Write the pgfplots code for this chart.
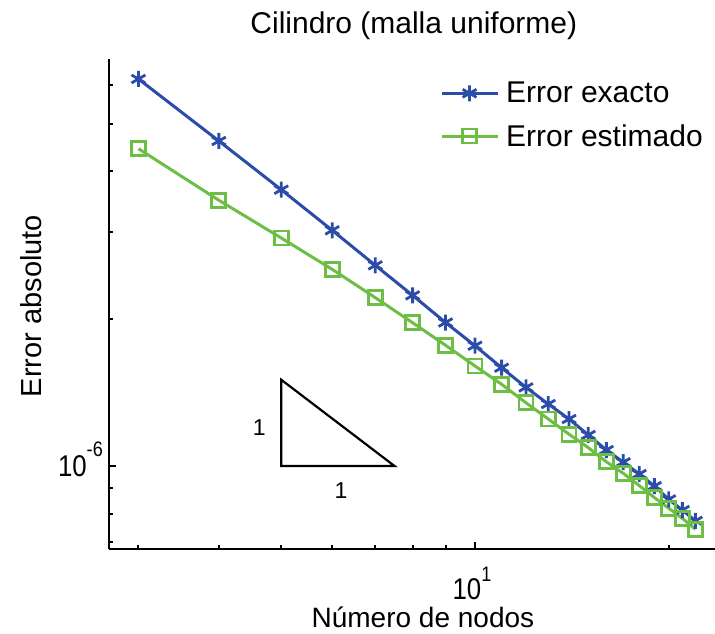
\documentclass[border=0pt]{standalone}
\usepackage{fontspec}
\setmainfont{Liberation Sans}
\newfontfamily\narrowfont[FakeStretch=0.86]{Liberation Sans}
\usepackage{pgfplots}
\pgfplotsset{compat=1.18}
\usetikzlibrary{calc}
\definecolor{cblue}{RGB}{43,76,168}
\definecolor{cgreen}{RGB}{108,190,69}
\newcommand\fs[1]{\fontsize{#1}{#1}\selectfont}
\newcommand\sups[2]{\raisebox{#1}{\fs{21}#2}}
\begin{document}
\begin{tikzpicture}
\begin{axis}[name=ax,
  xmode=log, ymode=log, scale only axis, width=606pt, height=490pt,
  xmin=2.7, xmax=23.6, ymin=6.77e-7, ymax=6.77e-6,
  axis x line=bottom, axis y line=left,
  x axis line style={-}, y axis line style={-},
  axis line style={line width=2pt, black},
  xtick={10}, xticklabels={10\sups{18pt}{1}}, minor xtick={3,4,5,6,7,8,9,20},
  ytick={1e-6}, yticklabels={10\sups{20pt}{-6}},
  minor ytick={7e-7,8e-7,9e-7,2e-6,3e-6,4e-6,5e-6,6e-6},
  tick align=inside, major tick length=7pt, minor tick length=4.5pt,
  every tick/.style={black, line width=2pt},
  xticklabel style={font=\narrowfont\fs{30}, anchor=base, inner sep=0pt, yshift=-50pt, xshift=-3pt},
  yticklabel style={font=\narrowfont\fs{30}, anchor=base east, inner sep=0pt, yshift=-10.7pt, xshift=-6pt},
  xlabel={Número de nodos},
  xlabel style={font=\fs{28}, at={(axis description cs:0.518,0)}, anchor=base, yshift=-78pt, inner sep=0pt},
  ylabel={Error absoluto},
  ylabel style={font=\fs{29}, at={(axis description cs:-0.1106,0.496)}, anchor=base, inner sep=0pt},
  title={Cilindro (malla uniforme)},
  title style={font=\fs{30}, at={(axis description cs:0.503,1)}, anchor=base, yshift=20pt, inner sep=0pt},
  legend style={draw=none, fill=none, at={(axis description cs:0.546,0.953)}, anchor=north west,
    inner sep=0pt, font=\fs{30}, nodes={inner sep=0pt}, column sep=7pt, row sep=20pt},
  legend cell align=left,
  legend image code/.code={\draw[mark repeat=2,mark phase=2,#1] plot coordinates {(0pt,0pt)(28pt,0pt)(56pt,0pt)};},
  clip=false,
]
\addplot[cblue, line width=3pt, mark=asterisk, mark size=8pt, mark options={line width=2.8pt}] coordinates {
(3,6.164e-6) (4,4.606e-6) (5,3.664e-6) (6,3.027e-6) (7,2.568e-6) (8,2.230e-6) (9,1.963e-6) (10,1.760e-6) (11,1.587e-6) (12,1.447e-6) (13,1.338e-6) (14,1.247e-6) (15,1.157e-6) (16,1.078e-6) (17,1.018e-6) (18,0.963e-6) (19,0.910e-6) (20,0.855e-6) (21,0.813e-6) (22,0.773e-6)};
\addlegendentry{Error exacto}
\addplot[cgreen, line width=3pt, mark=square, mark size=7pt, mark options={line width=2.8pt}] coordinates {
(3,4.442e-6) (4,3.486e-6) (5,2.920e-6) (6,2.520e-6) (7,2.206e-6) (8,1.961e-6) (9,1.764e-6) (10,1.600e-6) (11,1.468e-6) (12,1.346e-6) (13,1.247e-6) (14,1.161e-6) (15,1.090e-6) (16,1.020e-6) (17,0.966e-6) (18,0.912e-6) (19,0.862e-6) (20,0.820e-6) (21,0.782e-6) (22,0.743e-6)};
\addlegendentry{Error estimado}
\draw[black, line width=2.2pt] (axis cs:5,1.5e-6) -- (axis cs:5,1e-6) -- (axis cs:7.5,1e-6) -- cycle;
\node[font=\fs{23}, inner sep=0pt] at (axis cs:4.62,1.196e-6) {1};
\node[font=\fs{23}, inner sep=0pt] at (axis cs:6.19,0.893e-6) {1};
\end{axis}
\pgfresetboundingbox
\path ($(ax.south west)+(-109pt,-85pt)$) rectangle ++(715pt,634pt);
\end{tikzpicture}
\end{document}
